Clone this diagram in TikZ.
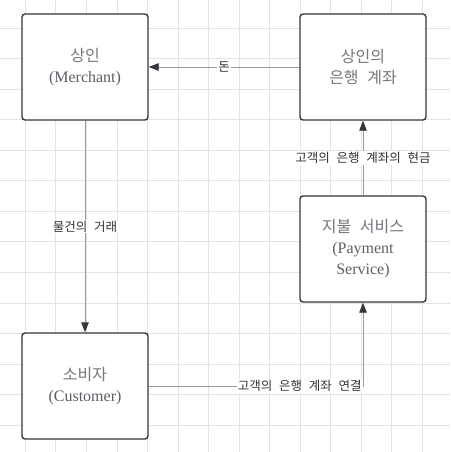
\documentclass[tikz,border=0pt]{standalone}
\usepackage{fontspec}
\setmainfont{Liberation Serif}
\newfontfamily\kr[WordSpace=0.8]{Noto Sans CJK KR}
\newfontfamily\krlbl[WordSpace=2.4]{Noto Sans CJK KR}
\usetikzlibrary{positioning,arrows.meta}
\definecolor{BoxLine}{HTML}{33363B}
\definecolor{BoxText}{HTML}{5E5E66}
\definecolor{BoxTextKr}{HTML}{76767E}
\definecolor{EdgeGray}{HTML}{9A9A9E}
\definecolor{LblText}{HTML}{333338}
\definecolor{GridGray}{HTML}{E3E3E3}
\newcommand{\krtxt}[1]{{\kr\color{BoxTextKr}#1}}

\begin{document}
\begin{tikzpicture}[
  x=1pt, y=-1pt,
  box/.style    = {rectangle, draw=BoxLine, fill=white, line width=1.4pt, rounded corners=3pt,
                   minimum width=126pt, minimum height=106pt, align=center, text=BoxText,
                   font=\fontsize{16}{21}\selectfont, inner sep=2pt},
  edge/.style   = {draw=EdgeGray, line width=0.9pt, -{Triangle[length=10pt, width=7.5pt, color=BoxLine]}},
  lbl/.style    = {fill=white, inner sep=1pt, text=LblText, font=\fontsize{12.5}{14}\selectfont\krlbl}
]
\useasboundingbox (0,0) rectangle (450,452);

% Background grid
\foreach \i in {0,...,13} {
  \draw[GridGray, line width=0.9pt] ({25.3+30.55*\i}, 0) -- ({25.3+30.55*\i}, 452);
  \draw[GridGray, line width=0.9pt] (0, {28+30.55*\i}) -- (450, {28+30.55*\i});
}

% Parties
\node[box] (merchant) at (85, 67)  {\krtxt{상인}\\(Merchant)};
\node[box] (bank)     at (363, 67) {\krtxt{상인의}\\\krtxt{은행 계좌}};
\node[box] (payment)  at (363, 249){\krtxt{지불 서비스}\\(Payment\\Service)};
\node[box] (customer) at (85, 386) {\krtxt{소비자}\\(Customer)};

% Flows
\draw[edge] (bank) -- node[lbl] {돈} (merchant);
\draw[edge] (merchant) -- node[lbl] {물건의 거래} (customer);
\draw[edge] (customer.east) -| node[lbl, anchor=east, pos=0.5] {고객의 은행 계좌 연결} (payment.south);
\draw[edge] (payment) -- node[lbl] {고객의 은행 계좌의 현금} (bank);
\end{tikzpicture}
\end{document}
